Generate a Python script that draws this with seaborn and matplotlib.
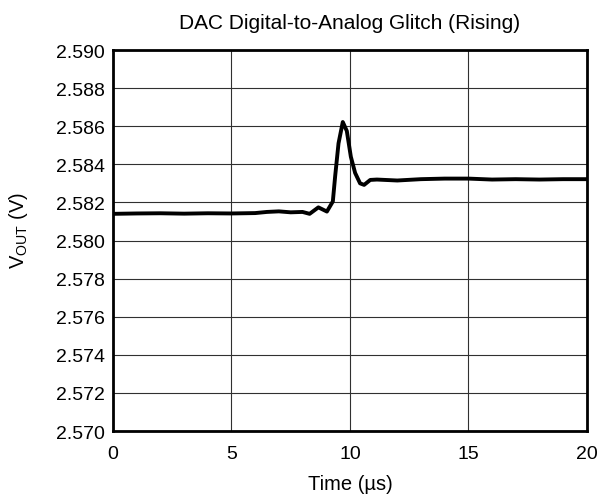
import matplotlib
matplotlib.use("Agg")
import matplotlib.pyplot as plt
import seaborn as sns
import pandas as pd

time_us = [0, 1, 2, 3, 4, 5, 6, 6.5, 7, 7.5, 8, 8.3, 8.67, 9.03, 9.28, 9.38, 9.52,
           9.70, 9.87, 10.04, 10.22, 10.43, 10.6, 10.86, 11.14, 12, 13, 14, 15, 16,
           17, 18, 19, 20]
vout = [2.58140, 2.58142, 2.58143, 2.58141, 2.58143, 2.58142, 2.58144, 2.58150,
        2.58153, 2.58148, 2.58150, 2.58140, 2.58174, 2.58152, 2.58205, 2.58340,
        2.58510, 2.58622, 2.58575, 2.58440, 2.58355, 2.58300, 2.58292, 2.58318,
        2.58320, 2.58315, 2.58322, 2.58325, 2.58325, 2.58320, 2.58322, 2.58320,
        2.58322, 2.58322]
x_ticks = [0, 5, 10, 15, 20]
y_ticks = [2.570, 2.572, 2.574, 2.576, 2.578, 2.580, 2.582, 2.584, 2.586, 2.588, 2.590]

df = pd.DataFrame({"Time": time_us, "Vout": vout})

sns.set_style("white")
plt.rcParams["font.family"] = ["Liberation Sans", "DejaVu Sans"]
plt.rcParams["mathtext.fontset"] = "custom"
plt.rcParams["mathtext.rm"] = "Liberation Sans"
plt.rcParams["text.color"] = "black"
plt.rcParams["axes.labelcolor"] = "black"

fig = plt.figure(figsize=(6.0, 5.02), dpi=100)
ax = fig.add_axes([0.1883, 0.1394, 0.7897, 0.759])

sns.lineplot(data=df, x="Time", y="Vout", ax=ax, color="black", linewidth=2.8)

ax.set_xlim(0, 20)
ax.set_ylim(2.570, 2.590)
ax.set_xticks(x_ticks)
ax.set_xticklabels([str(t) for t in x_ticks])
ax.set_yticks(y_ticks)
ax.set_yticklabels([f"{v:.3f}" for v in y_ticks])
ax.tick_params(axis="both", length=0, labelsize=14, colors="black")
ax.tick_params(axis="x", pad=10)
ax.tick_params(axis="y", pad=6)
ax.grid(True, color="#303030", linewidth=0.8)
for s in ax.spines.values():
    s.set_color("black")
    s.set_linewidth(2)

ax.set_xlabel("Time (µs)", fontsize=14.5, labelpad=9, color="black")
ax.set_ylabel(r"V$_{\mathregular{OUT}}$ (V)", fontsize=14.5, color="black")
ax.yaxis.set_label_coords(-0.175, 0.53)
ax.set_title("DAC Digital-to-Analog Glitch (Rising)", fontsize=15, pad=16, color="black")

fig.savefig("out.png", dpi=100)
